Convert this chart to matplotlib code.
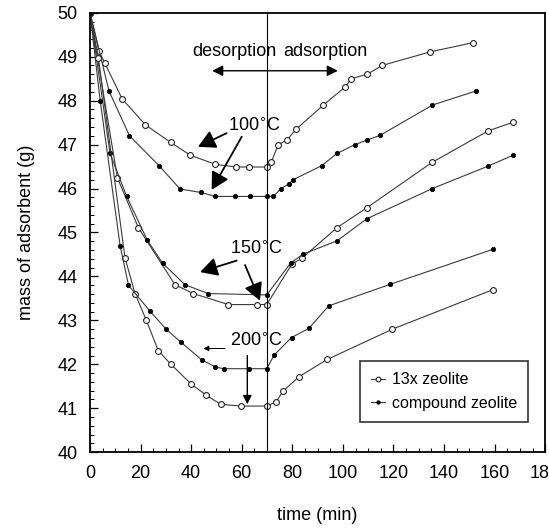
import matplotlib
matplotlib.use("Agg")
import matplotlib.pyplot as plt
import matplotlib.ticker as ticker
from matplotlib import font_manager

names = {f.name for f in font_manager.fontManager.ttflist}
FONT = "Liberation Sans Narrow" if "Liberation Sans Narrow" in names else "Liberation Sans"
plt.rcParams["font.family"] = [FONT, "DejaVu Sans"]

# 13x zeolite (open markers) and compound zeolite (filled markers)
open100_t = [0, 3.6, 5.9, 12.7, 21.9, 31.9, 39.6, 49.6, 57.8, 62.8, 69.8, 71.7, 74.4, 77.8, 81.5, 92.3, 100.7, 103.4, 109.6, 115.5, 134.5, 151.5]
open100_m = [50, 49.12, 48.85, 48.04, 47.45, 47.05, 46.76, 46.55, 46.49, 46.49, 46.49, 46.6, 47.0, 47.1, 47.35, 47.9, 48.3, 48.5, 48.6, 48.8, 49.11, 49.32]

comp100_t = [0, 7.5, 15.6, 27.3, 35.6, 43.9, 49.6, 57.4, 63.3, 69.9, 72.5, 75.5, 78.5, 80.3, 91.6, 97.7, 104.8, 109.4, 114.7, 135.4, 152.6]
comp100_m = [50, 48.22, 47.2, 46.52, 45.99, 45.91, 45.82, 45.82, 45.82, 45.82, 45.82, 46.0, 46.1, 46.2, 46.52, 46.8, 47.0, 47.1, 47.21, 47.9, 48.22]

open150_t = [0, 10.8, 19.1, 33.6, 40.9, 54.7, 65.9, 69.9, 79.8, 83.7, 97.7, 109.4, 135.4, 157.4, 167.4]
open150_m = [50, 46.25, 45.11, 43.81, 43.61, 43.36, 43.36, 43.36, 44.28, 44.41, 45.11, 45.56, 46.6, 47.31, 47.51]

comp150_t = [0, 7.9, 14.5, 22.6, 28.7, 37.6, 46.8, 69.9, 79.4, 84.4, 97.7, 109.4, 135.4, 157.4, 167.4]
comp150_m = [50, 46.8, 45.82, 44.83, 44.3, 43.81, 43.61, 43.58, 44.31, 44.51, 44.81, 45.31, 46.0, 46.51, 46.76]

open200_t = [0, 3.3, 13.8, 17.8, 22.2, 27.0, 32.0, 40.0, 45.9, 51.7, 59.6, 70.0, 73.6, 76.5, 82.7, 93.8, 119.6, 159.4]
open200_m = [50, 48.97, 44.43, 43.61, 43.01, 42.31, 42.0, 41.55, 41.3, 41.09, 41.05, 41.05, 41.15, 41.4, 41.72, 42.11, 42.8, 43.7]

comp200_t = [0, 4.0, 11.9, 15.2, 23.7, 30.1, 35.8, 44.2, 49.6, 52.8, 62.8, 69.9, 72.8, 79.7, 86.6, 94.4, 118.7, 159.5]
comp200_m = [50, 48.0, 44.7, 43.8, 43.21, 42.8, 42.51, 42.1, 41.94, 41.9, 41.9, 41.9, 42.21, 42.61, 42.82, 43.33, 43.82, 44.62]

SWITCH_T = 70

fig = plt.figure(figsize=(5.49, 5.32), dpi=100)
ax = fig.add_axes([0.164, 0.150, 0.829, 0.826])

LINE = "#3a3a3a"
open_kw = dict(color=LINE, lw=0.8, marker="o", ms=4.2, mfc="white", mec="#222222", mew=0.8)
comp_kw = dict(color=LINE, lw=0.8, marker="o", ms=3.2, mfc="black", mec="black", mew=0.5)

ax.plot(open100_t, open100_m, label="13x zeolite", **open_kw)
ax.plot(comp100_t, comp100_m, label="compound zeolite", **comp_kw)
ax.plot(open150_t, open150_m, **open_kw)
ax.plot(comp150_t, comp150_m, **comp_kw)
ax.plot(open200_t, open200_m, **open_kw)
ax.plot(comp200_t, comp200_m, **comp_kw)

ax.axvline(SWITCH_T, color="black", lw=0.8)

# annotations
fs = 13
ax.text(57, 49.11, "desorption", ha="center", va="center", fontsize=fs)
ax.text(93, 49.11, "adsorption", ha="center", va="center", fontsize=fs)
ax.annotate("", xy=(48.3, 48.68), xytext=(98, 48.68),
            arrowprops=dict(arrowstyle="<|-|>", mutation_scale=16, lw=1.0, color="black",
                            shrinkA=0, shrinkB=0))

big = dict(arrowstyle="-|>,head_length=0.5,head_width=0.27", mutation_scale=21, lw=1.3,
           color="black", shrinkA=0, shrinkB=0)
ax.text(65, 47.42, "100$^{\\circ}$C", ha="center", va="center", fontsize=fs)
ax.annotate("", xy=(42.7, 46.95), xytext=(54, 47.26), arrowprops=big)
ax.annotate("", xy=(48.1, 45.97), xytext=(60, 47.18), arrowprops=big)

ax.text(66, 44.62, "150$^{\\circ}$C", ha="center", va="center", fontsize=fs)
ax.annotate("", xy=(43.5, 44.1), xytext=(58, 44.36), arrowprops=big)
ax.annotate("", xy=(67.2, 43.45), xytext=(61.3, 44.26), arrowprops=big)

ax.text(65.7, 42.53, "200$^{\\circ}$C", ha="center", va="center", fontsize=fs)
ax.annotate("", xy=(44.8, 42.36), xytext=(53.4, 42.36),
            arrowprops=dict(arrowstyle="-|>", mutation_scale=8, lw=0.7, color="black", shrinkA=0, shrinkB=0))
ax.annotate("", xy=(62.2, 41.09), xytext=(62.2, 42.2),
            arrowprops=dict(arrowstyle="-|>", mutation_scale=13, lw=1.0, color="black", shrinkA=0, shrinkB=0))

ax.set_xlim(0, 180)
ax.set_ylim(40, 50)
ax.xaxis.set_major_locator(ticker.MultipleLocator(20))
ax.xaxis.set_minor_locator(ticker.MultipleLocator(5))
ax.yaxis.set_major_locator(ticker.MultipleLocator(1))
ax.yaxis.set_minor_locator(ticker.MultipleLocator(0.2))
ax.tick_params(which="both", direction="in", top=False, right=False, labelsize=fs, pad=9)
ax.tick_params(which="major", length=6, width=0.9)
ax.tick_params(which="minor", length=3, width=0.7)
for s in ax.spines.values():
    s.set_linewidth(1.3)

ax.set_xlabel("time (min)", fontsize=fs, labelpad=18)
ax.set_ylabel("mass of adsorbent (g)", fontsize=fs, labelpad=16)

leg = ax.legend(loc="lower right", bbox_to_anchor=(0.98, 0.05), fontsize=11.5, frameon=True,
                fancybox=False, edgecolor="black", handlelength=0.9, handletextpad=0.4,
                borderpad=0.7, labelspacing=0.55, markerscale=0.8)
leg.get_frame().set_linewidth(1.2)

fig.savefig("out.png", dpi=100)
